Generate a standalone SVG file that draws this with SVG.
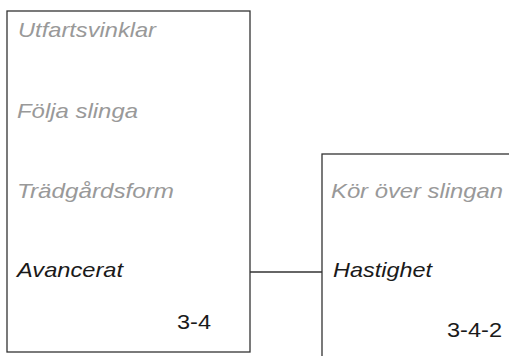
<svg xmlns="http://www.w3.org/2000/svg" width="509" height="356" viewBox="0 0 509 356">
<style>
.box{fill:#fff;stroke:#333;stroke-width:1.3}
.conn{fill:none;stroke:#333;stroke-width:1.3}
text{font-family:"Liberation Sans",Arial,sans-serif;font-size:21px}
.it{font-style:italic}
.dim{fill:#999}
.on{fill:#1a1a1a}
.num{fill:#1a1a1a}
</style>
<rect width="509" height="356" fill="#fff"/>
<g id="connectors">
<line class="conn" x1="250" y1="272" x2="322" y2="272"/>
</g>
<g id="node-3-4">
<rect class="box" x="7" y="11" width="243" height="341"/>
<text class="it dim" x="18" y="37" textLength="138" lengthAdjust="spacingAndGlyphs">Utfartsvinklar</text>
<text class="it dim" x="17" y="118" textLength="121" lengthAdjust="spacingAndGlyphs">Följa slinga</text>
<text class="it dim" x="17" y="198" textLength="157" lengthAdjust="spacingAndGlyphs">Trädgårdsform</text>
<text class="it on" x="17" y="277" textLength="106" lengthAdjust="spacingAndGlyphs">Avancerat</text>
<text class="num" x="177" y="329" textLength="34" lengthAdjust="spacingAndGlyphs">3-4</text>
</g>
<g id="node-3-4-2">
<rect class="box" x="322" y="154" width="200" height="220"/>
<text class="it dim" x="331" y="198" textLength="172" lengthAdjust="spacingAndGlyphs">Kör över slingan</text>
<text class="it on" x="333" y="277" textLength="99" lengthAdjust="spacingAndGlyphs">Hastighet</text>
<text class="num" x="447" y="337" textLength="55" lengthAdjust="spacingAndGlyphs">3-4-2</text>
</g>
</svg>
